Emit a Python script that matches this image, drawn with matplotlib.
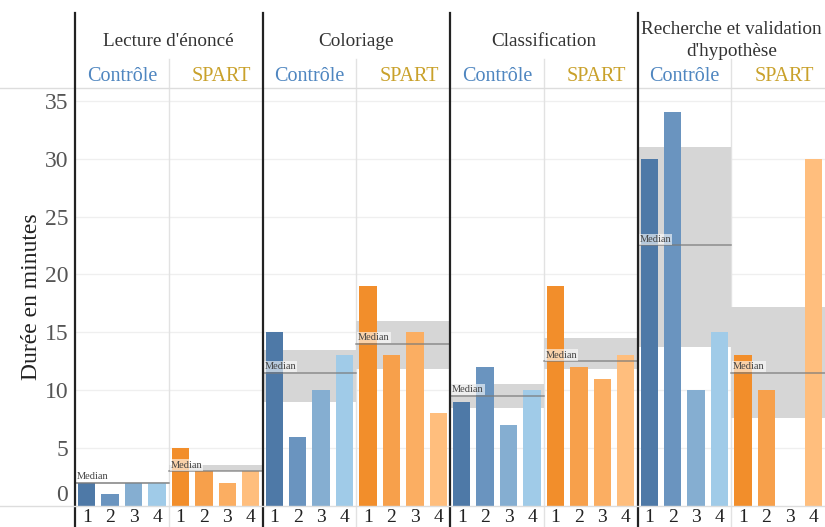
import matplotlib
matplotlib.use('Agg')
import matplotlib.pyplot as plt

plt.rcParams['font.family'] = ['Liberation Serif', 'DejaVu Serif']

tasks = ['Lecture d\'énoncé', 'Coloriage', 'Classification', 'Recherche et validation\nd\'hypothèse']
groups = ['Contrôle', 'SPART']
sessions = ['1', '2', '3', '4']

# durations (minutes) per task: control bars then SPART bars
control = [[2, 1, 2, 2], [15, 6, 10, 13], [9, 12, 7, 10], [30, 34, 10, 15]]
spart = [[5, 3, 2, 3], [19, 13, 15, 8], [19, 12, 11, 13], [13, 10, 0, 30]]

# gray reference bands (low, high)
control_band = [(1.9, 2.1), (9.0, 13.5), (8.5, 10.5), (13.7, 31.0)]
spart_band = [(3.0, 3.5), (11.8, 16.0), (11.8, 14.5), (7.6, 17.2)]

yticks = [0, 5, 10, 15, 20, 25, 30, 35]

blues = ['#4e79a7', '#6a94bf', '#85aed1', '#a0cbe8']
oranges = ['#f28e2b', '#f7a04b', '#fbae62', '#ffbe7d']
group_colors = ['#4f86c0', '#c9a12b']

fig = plt.figure(figsize=(8.25, 5.27), dpi=100)
ax = fig.add_axes([75 / 825, 21 / 527, 750 / 825, 418 / 527])
ax.set_xlim(0, 32)
ax.set_ylim(0, 36.1)

for s in ax.spines.values():
    s.set_visible(False)

for y in yticks[1:]:
    ax.axhline(y, color='#efefef', lw=0.9, zorder=0)

bw = 0.74
for t in range(4):
    for g, (vals, band, cols) in enumerate([(control[t], control_band[t], blues),
                                             (spart[t], spart_band[t], oranges)]):
        x0 = t * 8 + g * 4
        med = sorted(vals)
        med = (med[1] + med[2]) / 2
        ax.fill_between([x0, x0 + 4], band[0], band[1], color='#d6d6d6', lw=0, zorder=1)
        xs = [x0 + i + 0.5 for i in range(4)]
        ax.bar(xs, vals, width=bw, color=cols, zorder=2)
        ax.plot([x0, x0 + 4], [med, med], color='#7a7a7a', lw=1.1, alpha=0.8, zorder=3)
        ax.text(x0 + 0.08, med + 0.15, 'Median', fontsize=7.5, color='#444444',
                ha='left', va='bottom', zorder=4,
                bbox=dict(boxstyle='square,pad=0.1', fc='white', ec='none', alpha=0.6))
        for i, lab in enumerate(sessions):
            ax.text(xs[i], -1.0, lab, ha='center', va='center', fontsize=14,
                    color='#222222', clip_on=False)
        ax.text(x0 + 2 + g * 0.25, 37.1, groups[g], ha='center', va='center',
                fontsize=14.5, color=group_colors[g], clip_on=False)
        # light separator between groups
        if g == 1:
            ax.plot([x0, x0], [-2.0, 38.6], color='#e2e2e2', lw=1.0, clip_on=False, zorder=0)
    ax.text(t * 8 + 4, 40.1 if t < 3 else 40.2, tasks[t], ha='center', va='center',
            fontsize=13.8, color='#333333', clip_on=False, linespacing=1.4)
    ax.plot([t * 8, t * 8], [-2.0, 42.6], color='#222222', lw=1.6, clip_on=False, zorder=5)

# top border and baseline running into the margin
ax.plot([-5.6, 32], [36.1, 36.1], color='#dddddd', lw=1.0, clip_on=False)
ax.plot([-5.6, 32], [0, 0], color='#dddddd', lw=1.0, clip_on=False, zorder=5)

ax.set_xticks([])
ax.set_yticks(yticks)
ax.set_yticklabels([str(v) for v in yticks], fontsize=17, color='#555555')
ax.tick_params(axis='y', length=0, pad=5)
ax.get_yticklabels()[0].set_verticalalignment('bottom')
ax.set_ylabel('Durée en minutes', fontsize=17, color='#222222', labelpad=2)

fig.savefig('out.png', dpi=100)
